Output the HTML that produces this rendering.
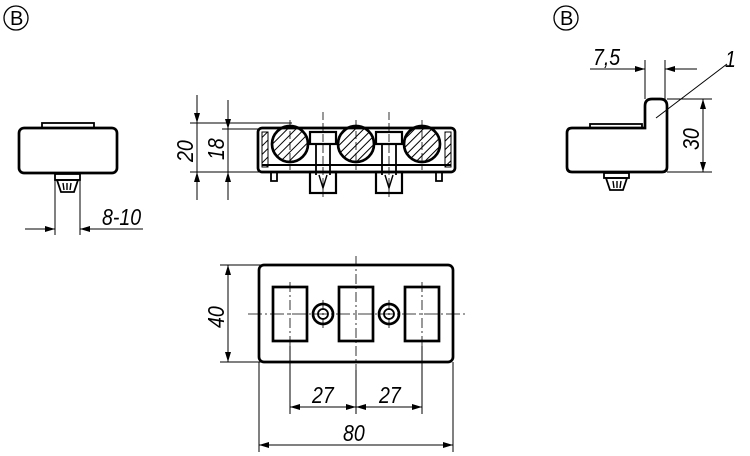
<!DOCTYPE html>
<html><head><meta charset="utf-8"><style>
html,body{margin:0;padding:0;background:#fff;}
svg{display:block;}
text{font-family:"Liberation Sans",sans-serif;font-style:italic;fill:#000;}
</style></head><body>
<svg width="750" height="456" viewBox="0 0 750 456" xmlns="http://www.w3.org/2000/svg">
<defs>
<marker id="a" viewBox="0 0 10 6" refX="10" refY="3" markerWidth="11" markerHeight="6" orient="auto-start-reverse" markerUnits="userSpaceOnUse"><path d="M0,0 L10,3 L0,6z" fill="#000"/></marker>
<pattern id="h" width="6" height="6" patternUnits="userSpaceOnUse" patternTransform="rotate(45)"><line x1="0" y1="0" x2="0" y2="6" stroke="#000" stroke-width="2"/></pattern>
</defs>
<g fill="none" stroke="#000">
<circle cx="16" cy="18" r="12" stroke-width="1.3"/>
<circle cx="566" cy="18" r="12" stroke-width="1.3"/>
</g>
<text x="9" y="25" font-size="20" style="font-style:normal" transform="translate(1,0)">B</text>
<text x="559" y="25" font-size="20" style="font-style:normal" transform="translate(1,0)">B</text>

<!-- LEFT VIEW -->
<g fill="none" stroke="#000">
<rect x="42" y="123" width="52" height="5" stroke-width="1.8"/>
<rect x="19" y="128" width="98" height="45" rx="5" stroke-width="2.7"/>
<rect x="55" y="174" width="25" height="6" stroke-width="1.8"/>
<path d="M57,180 L78,180 L74,192 L61,192 Z" stroke-width="1.8"/>
<path d="M63,183 L64,190 M67,183 L67,190 M71,183 L70,190" stroke-width="1.4"/>
<line x1="55" y1="180" x2="55" y2="235" stroke-width="1"/>
<line x1="80" y1="180" x2="80" y2="235" stroke-width="1"/>
<line x1="25" y1="229" x2="55" y2="229" stroke-width="1" marker-end="url(#a)"/>
<line x1="143" y1="229" x2="80" y2="229" stroke-width="1" marker-end="url(#a)"/>
</g>
<text transform="translate(102,225) scale(0.85,1)" font-size="23">8-10</text>

<!-- FRONT VIEW -->
<g fill="none" stroke="#000">
<rect x="258" y="128" width="197" height="44" rx="4" stroke-width="2.7"/>
<rect x="262" y="132" width="6" height="35" fill="url(#h)" stroke-width="1"/>
<rect x="445" y="132" width="6" height="35" fill="url(#h)" stroke-width="1"/>
<line x1="262" y1="165" x2="451" y2="165" stroke-width="2"/>
<circle cx="290" cy="144" r="18" fill="url(#h)" stroke-width="2.7"/>
<circle cx="356" cy="144" r="18" fill="url(#h)" stroke-width="2.7"/>
<circle cx="422" cy="144" r="18" fill="url(#h)" stroke-width="2.7"/>
<rect x="310" y="132" width="26" height="12" stroke-width="2.2"/>
<rect x="376" y="132" width="26" height="12" stroke-width="2.2"/>
<path d="M316,144 L316,175 M330,144 L330,175 M382,144 L382,175 M396,144 L396,175" stroke-width="1.8"/>
<rect x="310" y="172" width="26" height="21" stroke-width="2.2"/>
<rect x="376" y="172" width="26" height="21" stroke-width="2.2"/>
<path d="M319,175 L323,188 L327,175 M385,175 L389,188 L393,175" stroke-width="1.4"/>
<path d="M271,172 L271,181 L277,181 L277,172 M436,172 L436,181 L442,181 L442,172" stroke-width="1.8"/>
<path d="M290,120 L290,170 M356,120 L356,170 M422,120 L422,170 M323,112 L323,200 M389,112 L389,200" stroke-width="0.8" stroke-dasharray="8,3"/>
<line x1="190" y1="123" x2="292" y2="123" stroke-width="1"/>
<line x1="222" y1="129" x2="262" y2="129" stroke-width="1"/>
<line x1="190" y1="172" x2="262" y2="172" stroke-width="1"/>
<line x1="197" y1="95" x2="197" y2="123" stroke-width="1" marker-end="url(#a)"/>
<line x1="197" y1="200" x2="197" y2="172" stroke-width="1" marker-end="url(#a)"/>
<line x1="197" y1="123" x2="197" y2="172" stroke-width="1"/>
<line x1="228" y1="100" x2="228" y2="129" stroke-width="1" marker-end="url(#a)"/>
<line x1="228" y1="200" x2="228" y2="172" stroke-width="1" marker-end="url(#a)"/>
<line x1="228" y1="129" x2="228" y2="172" stroke-width="1"/>
</g>
<text transform="translate(193,162) rotate(-90) scale(0.85,1)" font-size="23">20</text>
<text transform="translate(224,160) rotate(-90) scale(0.85,1)" font-size="23">18</text>

<!-- RIGHT VIEW -->
<g fill="none" stroke="#000">
<rect x="590" y="124" width="52" height="4" stroke-width="1.8"/>
<path d="M572,128 L645,128 L645,106 Q645,99 652,99 L660,99 Q667,99 667,106 L667,167 Q667,172 662,172 L572,172 Q567,172 567,167 L567,133 Q567,128 572,128 Z" stroke-width="2.7"/>
<rect x="604" y="173" width="25" height="5" stroke-width="1.8"/>
<path d="M606,178 L627,178 L623,190 L610,190 Z" stroke-width="1.8"/>
<path d="M613,181 L614,188 M617,181 L617,188 M621,181 L620,188" stroke-width="1.4"/>
<line x1="645" y1="60" x2="645" y2="99" stroke-width="1"/>
<line x1="665" y1="60" x2="665" y2="99" stroke-width="1"/>
<line x1="590" y1="69" x2="645" y2="69" stroke-width="1" marker-end="url(#a)"/>
<line x1="697" y1="69" x2="665" y2="69" stroke-width="1" marker-end="url(#a)"/>
<line x1="667" y1="99" x2="712" y2="99" stroke-width="1"/>
<line x1="667" y1="172" x2="712" y2="172" stroke-width="1"/>
<line x1="703" y1="136" x2="703" y2="99" stroke-width="1" marker-end="url(#a)"/>
<line x1="703" y1="136" x2="703" y2="172" stroke-width="1" marker-end="url(#a)"/>
<line x1="656" y1="118" x2="727" y2="64" stroke-width="1"/>
</g>
<text transform="translate(593,65) scale(0.85,1)" font-size="23">7,5</text>
<text transform="translate(725,67) scale(0.85,1)" font-size="23">1</text>
<text transform="translate(699,150) rotate(-90) scale(0.85,1)" font-size="23">30</text>

<!-- TOP VIEW -->
<g fill="none" stroke="#000">
<rect x="259" y="265" width="194" height="97" rx="5" stroke-width="2.7"/>
<rect x="273" y="287" width="34" height="54" stroke-width="2.7"/>
<rect x="339" y="287" width="34" height="54" stroke-width="2.7"/>
<rect x="405" y="287" width="34" height="54" stroke-width="2.7"/>
<circle cx="323" cy="314" r="10" stroke-width="2.7"/>
<circle cx="323" cy="314" r="5" stroke-width="1.8"/>
<circle cx="389" cy="314" r="10" stroke-width="2.7"/>
<circle cx="389" cy="314" r="5" stroke-width="1.8"/>
<path d="M248,314 L465,314" stroke-width="0.8" stroke-dasharray="14,3,2,3"/>
<path d="M356,256 L356,370 M323,300 L323,328 M389,300 L389,328 M290,282 L290,346 M422,282 L422,346" stroke-width="0.8" stroke-dasharray="10,3,2,3"/>
<line x1="220" y1="265" x2="262" y2="265" stroke-width="1"/>
<line x1="220" y1="362" x2="262" y2="362" stroke-width="1"/>
<line x1="228" y1="313" x2="228" y2="265" stroke-width="1" marker-end="url(#a)"/>
<line x1="228" y1="313" x2="228" y2="362" stroke-width="1" marker-end="url(#a)"/>
<line x1="290" y1="346" x2="290" y2="414" stroke-width="1"/>
<line x1="422" y1="346" x2="422" y2="414" stroke-width="1"/>
<line x1="356" y1="370" x2="356" y2="414" stroke-width="1"/>
<line x1="259" y1="362" x2="259" y2="452" stroke-width="1"/>
<line x1="453" y1="362" x2="453" y2="452" stroke-width="1"/>
<line x1="323" y1="407" x2="290" y2="407" stroke-width="1" marker-end="url(#a)"/>
<line x1="323" y1="407" x2="356" y2="407" stroke-width="1" marker-end="url(#a)"/>
<line x1="389" y1="407" x2="356" y2="407" stroke-width="1" marker-end="url(#a)"/>
<line x1="389" y1="407" x2="422" y2="407" stroke-width="1" marker-end="url(#a)"/>
<line x1="356" y1="445" x2="259" y2="445" stroke-width="1" marker-end="url(#a)"/>
<line x1="356" y1="445" x2="453" y2="445" stroke-width="1" marker-end="url(#a)"/>
</g>
<text transform="translate(312,403) scale(0.85,1)" font-size="23">27</text>
<text transform="translate(379,403) scale(0.85,1)" font-size="23">27</text>
<text transform="translate(343,441) scale(0.85,1)" font-size="23">80</text>
<text transform="translate(224,328) rotate(-90) scale(0.85,1)" font-size="23">40</text>
</svg>
</body></html>
